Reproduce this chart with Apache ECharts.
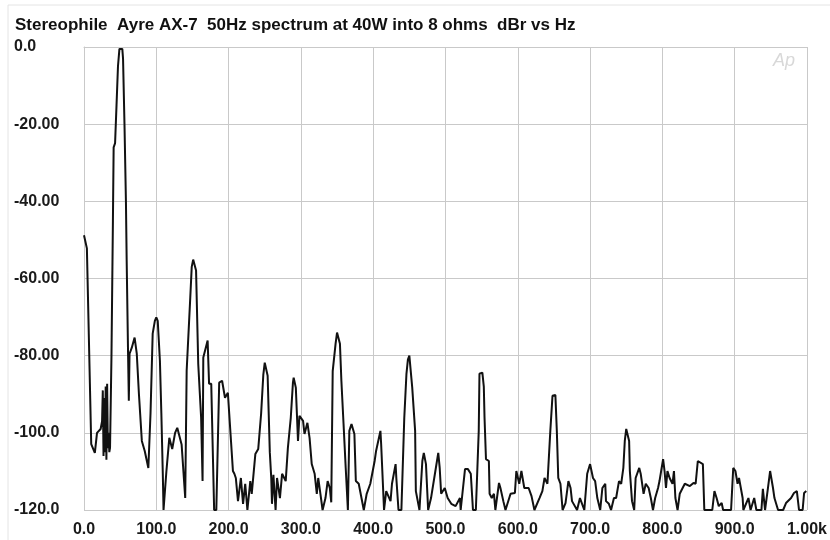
<!DOCTYPE html>
<html>
<head>
<meta charset="utf-8">
<script src="https://cdn.jsdelivr.net/npm/echarts@6/dist/echarts.min.js"></script>
<style>
  html, body { margin: 0; padding: 0; background: #ffffff; }
  #chart { width: 830px; height: 540px; }
</style>
</head>
<body>
<div id="chart"></div>
<script>
// Spectrum of the 50Hz output signal, frequency in Hz and level in dBr
const freqHz = [
  0, 4, 10, 15, 18, 23, 25, 26, 27, 28, 29, 30, 31, 32, 33, 34, 35, 36, 38, 40,
  41, 43, 45, 47, 49, 51, 53, 54, 56, 58, 59, 61, 62, 63, 66, 70, 73, 76, 80, 84,
  89, 92, 95, 98, 100, 102, 105, 107, 109, 110, 114, 118, 122, 126, 129, 135, 140, 142, 147, 149,
  151, 153, 155, 158, 162, 164, 165, 171, 173, 176, 180, 183, 187, 191, 195, 199, 206, 208, 210, 213,
  217, 220, 223, 226, 230, 232, 237, 241, 245, 248, 250, 252, 254, 257, 259, 260, 262, 265, 267, 271,
  274, 279, 282, 286, 289, 290, 291, 293, 296, 298, 303, 305, 309, 312, 315, 319, 322, 324, 327, 330,
  334, 337, 340, 342, 344, 348, 350, 352, 354, 356, 359, 362, 365, 367, 370, 374, 376, 380, 387, 391,
  396, 402, 404, 410, 411, 415, 418, 424, 426, 431, 432, 435, 439, 443, 446, 448, 450, 452, 454, 458,
  459, 464, 468, 470, 473, 476, 480, 486, 490, 492, 494, 499, 503, 508, 514, 520, 521, 527, 528, 531,
  535, 538, 542, 546, 547, 549, 551, 553, 554, 556, 560, 561, 564, 567, 569, 574, 576, 580, 583, 590,
  596, 598, 602, 605, 609, 615, 619, 623, 630, 634, 637, 641, 645, 648, 650, 652, 654, 656, 659, 662,
  666, 670, 673, 675, 682, 686, 692, 696, 700, 704, 707, 710, 714, 717, 721, 722, 726, 729, 733, 736,
  740, 743, 746, 748, 750, 752, 754, 755, 758, 761, 763, 768, 770, 774, 777, 781, 784, 787, 790, 794,
  796, 801, 803, 805, 807, 810, 814, 816, 818, 821, 824, 828, 831, 838, 843, 846, 849, 851, 856, 858,
  869, 872, 875, 878, 882, 884, 895, 898, 901, 904, 906, 911, 912, 919, 922, 927, 930, 937, 939, 942,
  946, 949, 953, 955, 960, 967, 971, 978, 982, 986, 989, 994, 996, 999
];
const levelDbr = [
  -48.8, -52.2, -102.9, -105.2, -100, -99, -97, -89, -106, -91, -105, -88, -107, -87.3, -104, -100, -105, -103.9, -80, -45,
  -26, -24.9, -15, -5, -0.5, 0, -0.5, -3, -20, -40, -55, -80, -91.7, -79.5, -78, -75.3, -79.5, -90, -102.1, -104.7,
  -109.1, -95, -74.3, -71, -70.1, -71, -81.3, -95, -110.6, -120, -109.9, -101.3, -104.2, -100, -98.7, -103, -116.9, -83.9, -64.9, -57,
  -55.1, -55.6, -57.9, -82.1, -96.1, -112.5, -80.5, -76.1, -87.3, -87.3, -120, -120, -87, -86.5, -90.9, -89.6, -109.9, -110.6, -111.7, -117.7,
  -111.7, -118.4, -113.2, -120, -112.5, -115.8, -105.5, -104.2, -95, -85, -81.8, -82, -85.2, -105, -111.7, -118.4, -110.9, -120, -111.7, -116.9,
  -110.6, -112.5, -103.9, -96.1, -87, -85.7, -86, -88.3, -102.1, -95.6, -96.9, -100.3, -97.4, -101.3, -108.1, -110.6, -115.8, -111.7, -115.8, -120,
  -116.9, -112.5, -114.3, -118, -84, -76.9, -74, -74.2, -76.9, -86.5, -97.7, -109.1, -120, -99.5, -97.7, -100.3, -112.5, -113.2, -120, -115.8,
  -113.2, -107.3, -104.7, -99.5, -102.9, -120, -115.1, -117.7, -113.2, -108.1, -111.7, -120, -120, -96.1, -84.7, -81, -80, -80.3, -88.3, -99.5,
  -115.1, -120, -107.3, -105.2, -108.1, -120, -116.9, -109.9, -105.2, -109.1, -115.8, -114.3, -116.9, -118.4, -119, -116.9, -120, -109.4, -109.1, -109.4,
  -110.6, -120, -120, -99.5, -84.7, -84.3, -84.4, -88, -96.1, -106.8, -107.3, -115.8, -116.9, -115.8, -120, -113, -114.3, -117.7, -120, -115.8,
  -115.6, -109.9, -113.2, -109.9, -114.3, -114.3, -116.4, -120, -116.9, -115.1, -111.7, -113.2, -99.5, -90.4, -89.9, -90.2, -99.5, -111.7, -113.2, -120,
  -118.2, -112.5, -114.3, -117.7, -120, -116.9, -120, -110.6, -108.1, -111.7, -112.5, -116.9, -120, -114.3, -113.2, -117.7, -118.4, -120, -116.9, -116.9,
  -112.5, -113.2, -109.1, -102.1, -99, -99.2, -102.1, -109.9, -117.7, -120, -111.7, -109.1, -110.6, -115.8, -113.2, -114.3, -116.9, -120, -116.9, -114.3,
  -112.5, -106.8, -109.9, -114.3, -109.9, -111.7, -113.2, -109.9, -116.9, -120, -115.8, -114.3, -113.2, -113.8, -113, -113.2, -107.3, -106.8, -108.1, -120,
  -120, -115.1, -116.9, -119, -118.2, -120, -120, -109.1, -109.9, -113.2, -111.7, -116.9, -120, -116.9, -120, -116.9, -120, -120, -114.5, -120,
  -114.3, -109.9, -114.3, -116.9, -120, -120, -118.2, -116.9, -115.6, -115.1, -120, -120, -115.6, -115.1
];

// Axis tick labels as printed on the analyzer plot
const xTickValues = [0, 100, 200, 300, 400, 500, 600, 700, 800, 900, 1000];
const xTickLabels = ['0.0', '100.0', '200.0', '300.0', '400.0', '500.0', '600.0', '700.0', '800.0', '900.0', '1.00k'];
const yTickValues = [0, -20, -40, -60, -80, -100, -120];
const yTickLabels = ['0.0', '-20.00', '-40.00', '-60.00', '-80.00', '-100.0', '-120.0'];

const titleText = 'Stereophile  Ayre AX-7  50Hz spectrum at 40W into 8 ohms  dBr vs Hz';

const points = freqHz.map((f, i) => [f, levelDbr[i]]);

const labelFont = {
  fontFamily: '"Liberation Sans", Arial, Helvetica, sans-serif',
  fontWeight: 'bold',
  fontSize: 16,
  color: '#1a1a1a'
};

const chart = echarts.init(document.getElementById('chart'), null, { renderer: 'canvas' });

chart.setOption({
  animation: false,
  backgroundColor: '#ffffff',
  title: {
    text: titleText,
    left: 10,
    top: 12,
    textStyle: {
      fontFamily: '"Liberation Sans", Arial, Helvetica, sans-serif',
      fontWeight: 'bold',
      fontSize: 17,
      color: '#111111'
    }
  },
  grid: { left: 84, right: 19, top: 47, bottom: 30 },
  xAxis: {
    type: 'value',
    min: 0,
    max: 1000,
    interval: 100,
    axisLine: { show: true, lineStyle: { color: '#c9c9c9', width: 1 } },
    axisTick: { show: false },
    splitLine: { show: true, lineStyle: { color: '#c9c9c9', width: 1 } },
    axisLabel: Object.assign({}, labelFont, {
      margin: 12,
      showMinLabel: true,
      showMaxLabel: true,
      formatter: v => {
        const k = xTickValues.indexOf(v);
        return k >= 0 ? xTickLabels[k] : '';
      }
    })
  },
  yAxis: {
    type: 'value',
    min: -120,
    max: 0,
    interval: 20,
    axisLine: { show: true, lineStyle: { color: '#c9c9c9', width: 1 } },
    axisTick: { show: false },
    splitLine: { show: true, lineStyle: { color: '#c9c9c9', width: 1 } },
    axisLabel: Object.assign({}, labelFont, {
      align: 'left',
      margin: 70,
      formatter: v => {
        const k = yTickValues.indexOf(v);
        return k >= 0 ? yTickLabels[k] : '';
      }
    })
  },
  graphic: [
    {
      type: 'line',
      shape: { x1: 8, y1: 5, x2: 830, y2: 5 },
      style: { stroke: '#e4e4e4', lineWidth: 1 }
    },
    {
      type: 'line',
      shape: { x1: 8, y1: 5, x2: 8, y2: 540 },
      style: { stroke: '#e4e4e4', lineWidth: 1 }
    },
    {
      type: 'text',
      left: 773,
      top: 52,
      style: {
        text: 'Ap',
        font: 'italic 18px "Liberation Sans", Arial, sans-serif',
        fill: '#d8d8d8'
      }
    }
  ],
  series: [
    {
      type: 'line',
      data: points,
      showSymbol: false,
      clip: true,
      lineStyle: { color: '#111111', width: 2 },
      emphasis: { disabled: true }
    }
  ]
});
</script>
</body>
</html>
